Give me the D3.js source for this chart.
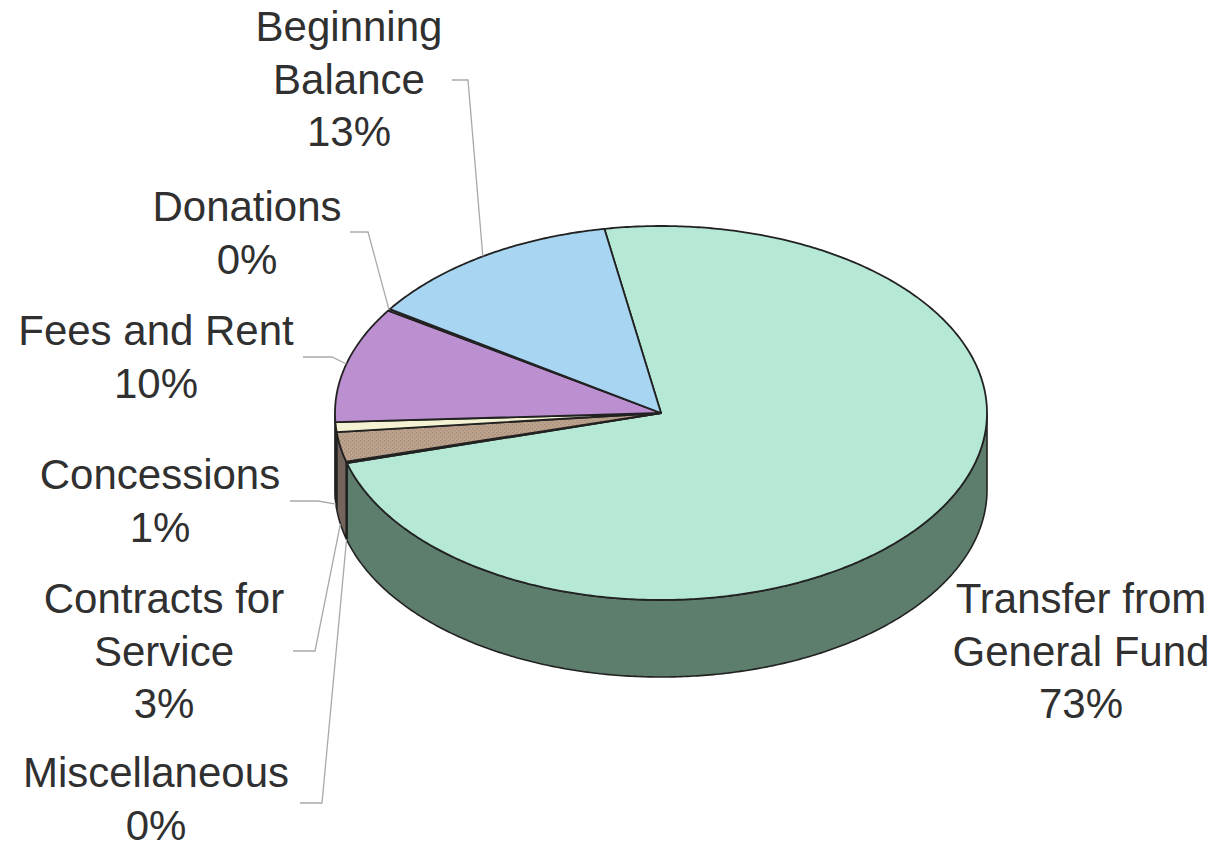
<!DOCTYPE html>
<html>
<head>
<meta charset="utf-8">
<script src="https://cdn.jsdelivr.net/npm/d3@7"></script>
<style>
  html, body { margin: 0; padding: 0; background: #ffffff; }
  svg { display: block; }
  text { font-family: "Liberation Sans", Arial, sans-serif; }
</style>
</head>
<body>
<svg id="chart" width="1220" height="848"></svg>
<script>
// ---- data (order = clockwise from the Transfer slice) ----
const categories = ["Transfer from General Fund", "Miscellaneous", "Contracts for Service",
                    "Concessions", "Fees and Rent", "Donations", "Beginning Balance"];
const values = [73.45, 0.15, 2.55, 0.85, 10.0, 0.15, 12.85];
const percentLabels = ["73%", "0%", "3%", "1%", "10%", "0%", "13%"];
const labelLines = [
  ["Transfer from", "General Fund"],
  ["Miscellaneous"],
  ["Contracts for", "Service"],
  ["Concessions"],
  ["Fees and Rent"],
  ["Donations"],
  ["Beginning", "Balance"]
];

// ---- styles ----
const topColors  = ["#b5e9d5", "#d9c3a5", "url(#hatch)", "#f3f3d3", "#bc8fd0", "#fcfccc", "#a8d5f2"];
const sideColors = ["#5d7e6c", "#8a7a66", "#73645c", "#a3a387", "#7d5f8a", "#a8a888", "#6d8ea3"];

// ---- layout ----
const W = 1220, H = 848;
const cx = 661, cy = 413, rx = 326, ry = 187, depth = 77;
const lineH = 52.5;
// label layout: center x, first baseline, leader start x, elbow x, leader y
const labelLayout = [
  { x: 1081, y: 613, leader: null },
  { x: 156, y: 787, leader: { x0: 300, x1: 322, y: 803 } },
  { x: 164, y: 613, leader: { x0: 293, x1: 315, y: 651 } },
  { x: 160, y: 489, leader: { x0: 290, x1: 318, y: 501 } },
  { x: 156, y: 345, leader: { x0: 303, x1: 332, y: 357 } },
  { x: 247, y: 221, leader: { x0: 350, x1: 368, y: 232 } },
  { x: 349, y: 41,  leader: { x0: 452, x1: 468, y: 80 } }
];

const svg = d3.select("#chart");
const defs = svg.append("defs");
const pat = defs.append("pattern").attr("id", "hatch")
  .attr("patternUnits", "userSpaceOnUse").attr("width", 4).attr("height", 4);
pat.append("rect").attr("width", 4).attr("height", 4).attr("fill", "#bca38d");
pat.append("rect").attr("x", 0).attr("y", 0).attr("width", 1.3).attr("height", 1.3).attr("fill", "#a48a76");
pat.append("rect").attr("x", 2).attr("y", 2).attr("width", 1.3).attr("height", 1.3).attr("fill", "#a48a76");

const pie = d3.pie().sort(null).value(d => d)
  .startAngle(-10 * Math.PI / 180).endAngle(350 * Math.PI / 180);
const arcs = pie(values);

function pt(a, dy = 0) {
  return [cx + rx * Math.sin(a), cy - ry * Math.cos(a) + dy];
}
function sampleArc(a0, a1, dy = 0) {
  const n = Math.max(2, Math.ceil(Math.abs(a1 - a0) / 0.01));
  return d3.range(n + 1).map(i => pt(a0 + (a1 - a0) * i / n, dy));
}
const line = d3.line();

// ---- sides (front half only) ----
const gSide = svg.append("g");
arcs.forEach((d, i) => {
  const b0 = Math.max(d.startAngle, Math.PI / 2);
  const b1 = Math.min(d.endAngle, 3 * Math.PI / 2);
  if (b1 <= b0) return;
  const pts = sampleArc(b0, b1, 0).concat(sampleArc(b1, b0, depth));
  gSide.append("path")
    .attr("d", line(pts) + "Z")
    .attr("fill", sideColors[i])
    .attr("stroke", "#222")
    .attr("stroke-width", 1.6)
    .attr("stroke-linejoin", "round");
});

// ---- top faces ----
const gTop = svg.append("g");
arcs.forEach((d, i) => {
  const pts = [[cx, cy]].concat(sampleArc(d.startAngle, d.endAngle, 0));
  gTop.append("path")
    .attr("d", line(pts) + "Z")
    .attr("fill", topColors[i])
    .attr("stroke", "#222")
    .attr("stroke-width", 1.8)
    .attr("stroke-linejoin", "round");
});

// ---- leader lines ----
const gLead = svg.append("g");
arcs.forEach((d, i) => {
  const L = labelLayout[i].leader;
  if (!L) return;
  const mid = (d.startAngle + d.endAngle) / 2;
  const front = Math.cos(mid) < 0;
  const anchor = pt(mid, front ? depth : 0);
  gLead.append("path")
    .attr("d", line([[L.x0, L.y], [L.x1, L.y], anchor]))
    .attr("fill", "none")
    .attr("stroke", "#a9a9a9")
    .attr("stroke-width", 1.3);
});

// ---- labels ----
const gLab = svg.append("g");
arcs.forEach((d, i) => {
  const lay = labelLayout[i];
  const lines = labelLines[i].concat([percentLabels[i]]);
  const t = gLab.append("text")
    .attr("text-anchor", "middle")
    .attr("font-size", 42)
    .attr("fill", "#303030");
  lines.forEach((s, k) => {
    t.append("tspan").attr("x", lay.x).attr("y", lay.y + k * lineH).text(s);
  });
});
</script>
</body>
</html>
